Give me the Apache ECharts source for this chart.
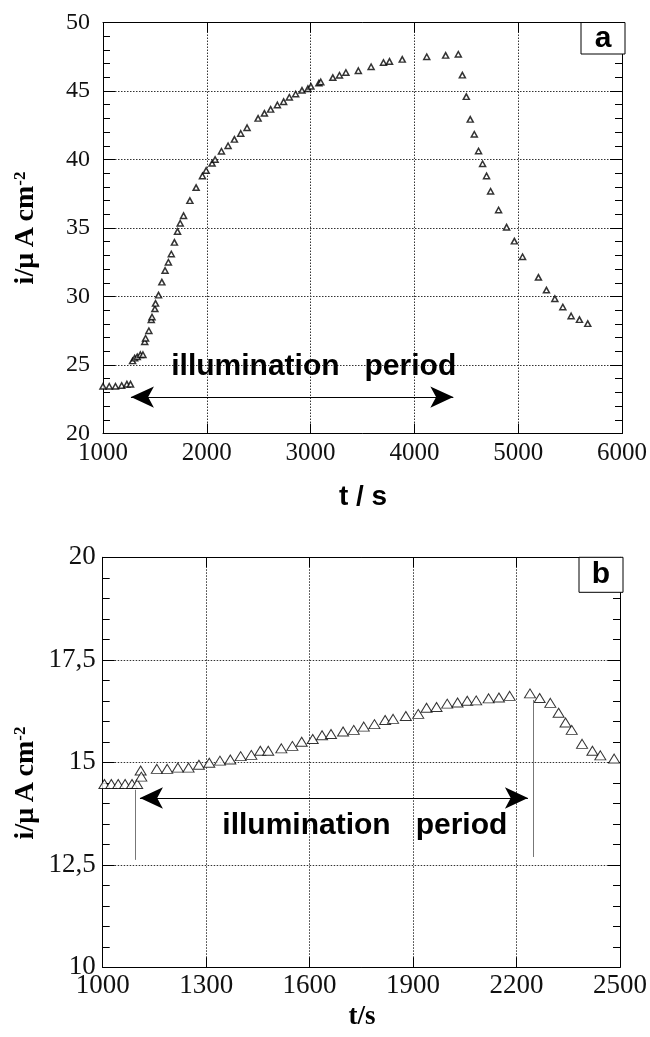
<!DOCTYPE html>
<html><head><meta charset="utf-8">
<script src="https://cdn.jsdelivr.net/npm/echarts@6/dist/echarts.min.js"></script>
<style>html,body{margin:0;padding:0;background:#fff;}#c{width:650px;height:1037px;}</style>
</head><body><div id="c"></div>
<script>
// ---- Panel a data ----
const tA = [1000,1060,1120,1180,1230,1265,1285,1305,1330,1360,1385,1402,1410,1442,1465,1472,1500,1506,1535,1567,1598,1630,1658,1688,1718,1744,1776,1837,1897,1958,1994,2051,2080,2141,2205,2266,2327,2388,2494,2555,2615,2680,2740,2795,2856,2917,2974,3003,3080,3098,3214,3278,3340,3460,3583,3702,3760,3883,4119,4301,4423,4462,4500,4538,4577,4618,4657,4695,4734,4811,4888,4963,5042,5195,5272,5353,5430,5510,5590,5670];
const iA = [23.45,23.45,23.45,23.5,23.6,23.6,25.3,25.5,25.6,25.75,25.75,26.7,26.95,27.5,28.3,28.5,29.1,29.5,30.1,31.05,31.9,32.5,33.1,33.95,34.75,35.35,35.9,37.0,37.95,38.8,39.2,39.72,40.0,40.6,41.0,41.47,41.9,42.32,43.0,43.37,43.66,43.98,44.22,44.54,44.78,45.05,45.17,45.34,45.58,45.66,45.98,46.15,46.35,46.48,46.77,47.08,47.16,47.31,47.5,47.6,47.68,46.16,44.59,42.93,41.84,40.62,39.69,38.8,37.68,36.31,35.06,34.04,32.9,31.4,30.47,29.84,29.23,28.58,28.31,28.02];
const xTicksA = [1000,2000,3000,4000,5000,6000];
const yTicksA = [20,25,30,35,40,45,50];
// ---- Panel b data ----
const tB = [1005,1025,1045,1065,1085,1100,1110,1112,1157,1187,1218,1249,1279,1309,1340,1370,1400,1431,1457,1480,1518,1550,1577,1609,1636,1662,1697,1728,1757,1788,1819,1842,1879,1915,1939,1968,1999,2029,2057,2083,2119,2149,2180,2239,2267,2298,2322,2342,2360,2390,2420,2443,2483];
const iB = [14.47,14.47,14.47,14.47,14.47,14.47,14.8,14.65,14.84,14.84,14.87,14.87,14.94,14.99,15.04,15.07,15.15,15.18,15.28,15.28,15.34,15.4,15.5,15.57,15.66,15.69,15.75,15.79,15.87,15.93,16.03,16.06,16.13,16.18,16.33,16.35,16.43,16.46,16.5,16.51,16.56,16.58,16.62,16.68,16.57,16.45,16.21,15.97,15.79,15.45,15.28,15.17,15.09];
const xTicksB = [1000,1300,1600,1900,2200,2500];
const yTicksB = [10,12.5,15,17.5,20];
// ---- annotations ----
const arrowA = [[1269,22.66],[4375,22.66]];
const textA = [3030,24.9];
const arrowB = [[1108,14.13],[2233,14.13]];
const textB = [1760,13.45];
const vLinesB = [[[1093,14.33],[1093,12.62]],[[2249,16.52],[2249,12.69]]];
const annotText = 'illumination   period';

const SERIF = '"Liberation Serif","DejaVu Serif",serif';
const SANS = '"Liberation Sans","DejaVu Sans",sans-serif';

function zip(a,b){return a.map((v,k)=>[v,b[k]]);}

const grid = [
  {left:103, top:22.5, width:522, height:411},
  {left:102.7, top:557.3, width:520.3, height:410}
];
const dotted = {show:true, lineStyle:{color:'#333', width:1, type:[1.5,1.5]}};
const fmtPlain = v => String(v);
const fmtB = v => String(v).replace('.', ',');
function mainX(gi, ticks, fs, margin){
  return {gridIndex:gi, type:'value', position:'bottom', min:ticks[0], max:ticks[ticks.length-1], interval:ticks[1]-ticks[0],
    axisLine:{lineStyle:{color:'#000', width:1}}, axisTick:{inside:true, length:10, lineStyle:{color:'#000'}},
    axisLabel:{fontFamily:SERIF, fontSize:fs, color:'#111', margin:margin, showMinLabel:true, showMaxLabel:true, formatter:fmtPlain},
    splitLine:dotted};
}
function sideX(gi, ticks){
  return {gridIndex:gi, type:'value', position:'top', min:ticks[0], max:ticks[ticks.length-1], interval:ticks[1]-ticks[0],
    axisLine:{lineStyle:{color:'#000', width:1}}, axisTick:{inside:true, length:10, lineStyle:{color:'#000'}},
    axisLabel:{show:false}, splitLine:{show:false}};
}
function mainY(gi, ticks, fs, margin, fmt){
  return {gridIndex:gi, type:'value', position:'left', min:ticks[0], max:ticks[ticks.length-1], interval:ticks[1]-ticks[0],
    axisLine:{lineStyle:{color:'#000', width:1}}, axisTick:{inside:true, length:12, lineStyle:{color:'#000'}},
    minorTick:{show:true, splitNumber:5, length:7, lineStyle:{color:'#000'}},
    axisLabel:{fontFamily:SERIF, fontSize:fs, color:'#111', margin:margin, showMinLabel:true, showMaxLabel:true, formatter:fmt},
    splitLine:dotted};
}
function sideY(gi, ticks){
  return {gridIndex:gi, type:'value', position:'right', min:ticks[0], max:ticks[ticks.length-1], interval:ticks[1]-ticks[0],
    axisLine:{lineStyle:{color:'#000', width:1}}, axisTick:{inside:true, length:12, lineStyle:{color:'#000'}},
    minorTick:{show:true, splitNumber:5, length:7, lineStyle:{color:'#000'}},
    axisLabel:{show:false}, splitLine:{show:false}};
}

function textPoint(coord){
  return {symbol:'rect', symbolSize:1, itemStyle:{color:'rgba(0,0,0,0)'}, silent:true,
    label:{show:true, position:'inside', formatter:annotText, fontFamily:SANS, fontWeight:'bold', fontSize:30, color:'#000'},
    data:[{coord:coord}]};
}
const yTitle = '{m|i/\u03bc\u2009A\u2009cm}{s|-2}';
const yTitleRich = {m:{font:'bold 28px '+SERIF, fill:'#000'}, s:{font:'bold 17px '+SERIF, fill:'#000', verticalAlign:'top'}};

const option = {
  animation:false,
  backgroundColor:'#fff',
  grid:grid,
  xAxis:[mainX(0,xTicksA,25,7), sideX(0,xTicksA), mainX(1,xTicksB,27,5), sideX(1,xTicksB)],
  yAxis:[mainY(0,yTicksA,24,13,fmtPlain), sideY(0,yTicksA), mainY(1,yTicksB,27,7,fmtB), sideY(1,yTicksB)],
  series:[
    {type:'scatter', xAxisIndex:0, yAxisIndex:0, data:zip(tA,iA), symbol:'triangle', symbolSize:[6,5.5],
      itemStyle:{color:'#fff', borderColor:'#000', borderWidth:1.5}, silent:true,
      markLine:{silent:true, symbol:['arrow','arrow'], symbolSize:[16,23], lineStyle:{color:'#000', width:1.2, type:'solid'}, label:{show:false},
        data:[[{coord:arrowA[0]},{coord:arrowA[1]}]]},
      markPoint:textPoint(textA)},
    {type:'scatter', xAxisIndex:2, yAxisIndex:2, data:zip(tB,iB), symbol:'triangle', symbolSize:[11,9],
      itemStyle:{color:'#fff', borderColor:'#000', borderWidth:1}, silent:true, clip:false,
      markLine:{silent:true, symbol:['arrow','arrow'], symbolSize:[16,23], lineStyle:{color:'#000', width:1.2, type:'solid'}, label:{show:false},
        data:[
          [{coord:arrowB[0]},{coord:arrowB[1]}],
          [{coord:vLinesB[0][0], symbol:'none', lineStyle:{color:'#777', width:1}},{coord:vLinesB[0][1], symbol:'none'}],
          [{coord:vLinesB[1][0], symbol:'none', lineStyle:{color:'#777', width:1}},{coord:vLinesB[1][1], symbol:'none'}]
        ]},
      markPoint:textPoint(textB)}
  ],
  graphic:[
    {type:'rect', shape:{x:581, y:22.5, width:44, height:31.5}, style:{fill:'#fff', stroke:'#000', lineWidth:1}, z:100},
    {type:'text', x:603, y:38.5, z:101, style:{text:'a', font:'bold 30px '+SANS, fill:'#000', align:'center', verticalAlign:'middle'}},
    {type:'rect', shape:{x:579, y:557.3, width:44, height:35}, style:{fill:'#fff', stroke:'#000', lineWidth:1}, z:100},
    {type:'text', x:601, y:575, z:101, style:{text:'b', font:'bold 30px '+SANS, fill:'#000', align:'center', verticalAlign:'middle'}},
    {type:'text', x:26, y:228, rotation:Math.PI/2, z:101, style:{text:yTitle, align:'center', verticalAlign:'middle', rich:yTitleRich}},
    {type:'text', x:26, y:783, rotation:Math.PI/2, z:101, style:{text:yTitle, align:'center', verticalAlign:'middle', rich:yTitleRich}},
    {type:'text', x:363, y:497, z:101, style:{text:'t / s', font:'bold 28px '+SANS, fill:'#000', align:'center', verticalAlign:'middle'}},
    {type:'text', x:362, y:1017, z:101, style:{text:'t/s', font:'bold 27px '+SERIF, fill:'#000', align:'center', verticalAlign:'middle'}}
  ]
};
const chart = echarts.init(document.getElementById('c'), null, {renderer:'canvas'});
chart.setOption(option);
</script></body></html>
